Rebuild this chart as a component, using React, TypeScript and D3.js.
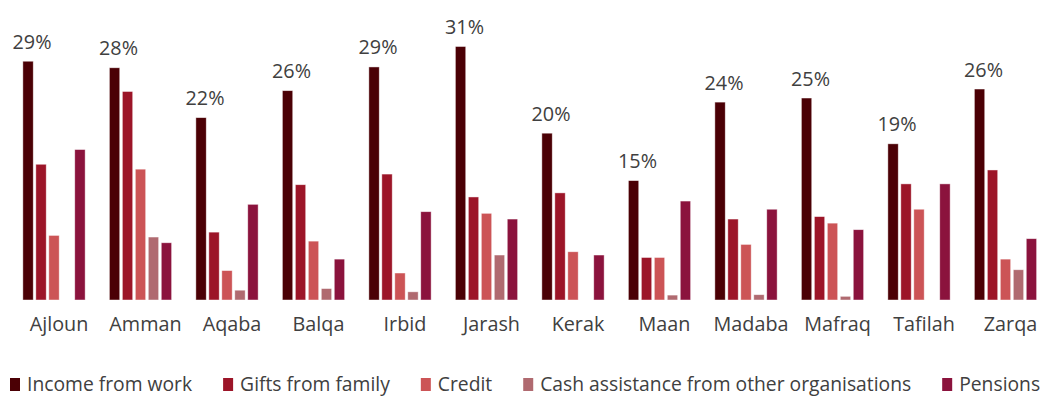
import React, { useEffect, useRef } from 'react'
import * as d3 from 'd3'

// governorates
const categories = ['Ajloun', 'Amman', 'Aqaba', 'Balqa', 'Irbid', 'Jarash', 'Kerak', 'Maan', 'Madaba', 'Mafraq', 'Tafilah', 'Zarqa']

const seriesNames = ['Income from work', 'Gifts from family', 'Credit', 'Cash assistance from other organisations', 'Pensions']

// share of households (%) per source of income
const incomeFromWork = [29.2, 28.4, 22.3, 25.6, 28.5, 31.0, 20.4, 14.6, 24.2, 24.7, 19.1, 25.8]
const giftsFromFamily = [16.6, 25.5, 8.3, 14.1, 15.4, 12.6, 13.1, 5.2, 9.9, 10.2, 14.2, 15.9]
const credit = [7.9, 16.0, 3.6, 7.2, 3.3, 10.6, 5.9, 5.2, 6.8, 9.4, 11.1, 5.0]
const cashAssistance = [0, 7.7, 1.2, 1.4, 1.0, 5.5, 0, 0.6, 0.65, 0.45, 0, 3.7]
const pensions = [18.4, 7.0, 11.7, 5.0, 10.8, 9.9, 5.5, 12.1, 11.1, 8.6, 14.2, 7.5]

const colors = ['#4b0005', '#9c1528', '#cc5456', '#b06a70', '#8b133d']

const App = () => {
    const ref = useRef<SVGSVGElement>(null)

    useEffect(() => {
        draw()
    })

    const draw = () => {
        const width = 1041
        const height = 396
        const baseline = 300
        const font = "'Open Sans', 'Noto Sans', sans-serif"

        const svg = d3.select(ref.current)
        svg.selectAll('*').remove()

        const values = [incomeFromWork, giftsFromFamily, credit, cashAssistance, pensions]
        const data = categories.map((c, i) => ({
            category: c,
            values: values.map((s) => s[i]),
        }))

        // outer band for each governorate, inner band for each series
        const x0 = d3.scaleBand().domain(categories).range([10.75, 1048.75]).paddingInner(0.28).paddingOuter(0.14)
        const x1 = d3.scaleBand().domain(seriesNames).range([0, x0.bandwidth()]).paddingInner(0.2)
        const y = d3.scaleLinear().domain([0, 31]).range([baseline, baseline - 253.5])

        const groups = svg
            .selectAll('.group')
            .data(data)
            .enter()
            .append('g')
            .attr('class', 'group')
            .attr('transform', (d) => `translate(${x0(d.category)},0)`)

        groups
            .selectAll('rect')
            .data((d) => d.values.map((v, k) => ({ key: seriesNames[k], value: v, k })))
            .enter()
            .filter((d) => d.value > 0)
            .append('rect')
            .attr('x', (d) => x1(d.key) || 0)
            .attr('width', x1.bandwidth())
            .attr('y', (d) => y(d.value))
            .attr('height', (d) => baseline - y(d.value))
            .attr('fill', (d) => colors[d.k])
            .attr('stroke', '#ffffff')
            .attr('stroke-opacity', 0.6)
            .attr('stroke-width', 0.75)

        // value labels on income from work
        groups
            .append('text')
            .attr('x', (x1(seriesNames[0]) || 0) + x1.bandwidth() / 2 + 4)
            .attr('y', (d) => y(d.values[0]) - 12.5)
            .attr('text-anchor', 'middle')
            .attr('font-family', font)
            .attr('font-size', 19.8)
            .attr('fill', '#404040')
            .text((d) => `${Math.round(d.values[0])}%`)

        // category axis labels
        svg
            .selectAll('.cat')
            .data(categories)
            .enter()
            .append('text')
            .attr('class', 'cat')
            .attr('x', (d) => (x0(d) || 0) + x0.bandwidth() / 2 + 5)
            .attr('y', 331)
            .attr('text-anchor', 'middle')
            .attr('font-family', font)
            .attr('font-size', 19.8)
            .attr('fill', '#404040')
            .text((d) => d)

        // legend
        const legend = svg.append('g')
        let lx = 10
        seriesNames.forEach((name, k) => {
            legend
                .append('rect')
                .attr('x', lx)
                .attr('y', 378)
                .attr('width', 10)
                .attr('height', 13)
                .attr('fill', colors[k])
            const t = legend
                .append('text')
                .attr('x', lx + 17)
                .attr('y', 391)
                .attr('font-family', font)
                .attr('font-size', 19.3)
                .attr('fill', '#404040')
                .text(name)
            const w = (t.node() as SVGTextElement).getComputedTextLength()
            lx += 17 + w + 31
        })

        svg.attr('width', width).attr('height', height)
    }

    return (
        <svg
            ref={ref}
            width={1041}
            height={396}
            style={{ position: 'absolute', left: 0, top: 0, background: '#ffffff' }}
        ></svg>
    )
}

export default App
